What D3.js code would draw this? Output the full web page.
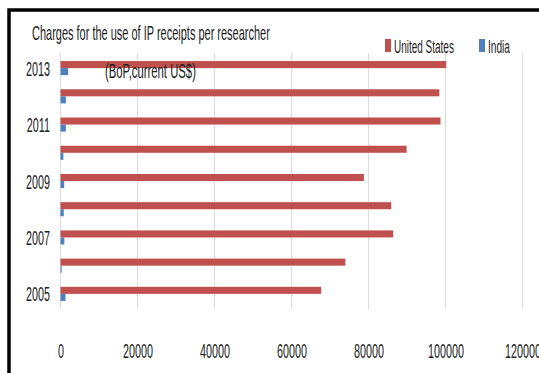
<!DOCTYPE html>
<html>
<head>
<meta charset="utf-8">
<script src="https://cdn.jsdelivr.net/npm/d3@7"></script>
<style>
  html, body { margin: 0; padding: 0; background: #fff; }
  svg { display: block; }
  text { font-family: "Liberation Sans Narrow", "Liberation Sans", Arial, sans-serif; fill: #222; }
</style>
</head>
<body>
<svg id="chart" width="539" height="373"></svg>
<script>
// Charges for the use of IP receipts per researcher, 2005–2013
const years = ["2005", "2006", "2007", "2008", "2009", "2010", "2011", "2012", "2013"];
const unitedStates = [67700, 74000, 86400, 85900, 78800, 89900, 98700, 98400, 100200];
const india = [1300, 300, 1000, 850, 950, 750, 1400, 1400, 2000];
const seriesNames = ["United States", "India"];
const seriesColors = ["#C0504D", "#4F81BD"];
const xTicks = [0, 20000, 40000, 60000, 80000, 100000, 120000];
const yTickLabels = ["2005", "2007", "2009", "2011", "2013"];
const titleText = "Charges for the use of IP receipts per researcher";
const subtitleText = "(BoP,current US$)";

const svg = d3.select("#chart");
const fontStack = "'Liberation Sans Narrow', 'Liberation Sans', Arial, sans-serif";
const textColor = "#222";

// plot area
const plotLeft = 60.5, plotRight = 522.5, plotTop = 53, plotBottom = 309;

const x = d3.scaleLinear().domain([0, 120000]).range([plotLeft, plotRight]);
const y0 = d3.scaleBand().domain(years).range([plotBottom - 1, plotTop + 1])
  .paddingInner(0.5).paddingOuter(0.25);
const y1 = d3.scaleBand().domain(seriesNames).range([0, y0.bandwidth()]);
const color = d3.scaleOrdinal().domain(seriesNames).range(seriesColors);

const rows = years.map((yr, i) => ({
  year: yr,
  values: [
    { name: "United States", value: unitedStates[i] },
    { name: "India", value: india[i] }
  ]
}));

// squeeze a text element horizontally so it spans the given width
function fitWidth(sel, width) {
  sel.each(function () {
    const w = this.getComputedTextLength();
    const t = d3.select(this);
    const base = t.attr("data-base") || "";
    t.attr("transform", base + ` scale(${width / w},1)`);
  });
}

// vertical gridlines
svg.append("g")
  .selectAll("line")
  .data(xTicks)
  .join("line")
  .attr("x1", d => x(d)).attr("x2", d => x(d))
  .attr("y1", plotTop).attr("y2", plotBottom)
  .attr("stroke", "#dcdcdc").attr("stroke-width", 1);

// bars
svg.append("g")
  .selectAll("g")
  .data(rows)
  .join("g")
  .attr("transform", d => `translate(0,${y0(d.year)})`)
  .selectAll("rect")
  .data(d => d.values)
  .join("rect")
  .attr("x", x(0))
  .attr("y", d => y1(d.name))
  .attr("width", d => x(d.value) - x(0))
  .attr("height", y1.bandwidth())
  .attr("fill", d => color(d.name));

// x axis labels: squeezed so each digit is about 6px wide
const xAxis = svg.append("g")
  .attr("transform", `translate(0,${plotBottom})`)
  .call(d3.axisBottom(x).tickValues(xTicks).tickFormat(d3.format("d")).tickSize(0).tickPadding(0));
xAxis.select(".domain").remove();
xAxis.selectAll("text")
  .attr("font-size", 21)
  .attr("dy", null)
  .attr("y", 49.5)
  .style("font-family", fontStack)
  .attr("fill", textColor);
const digitW = xAxis.select("text").node().getComputedTextLength();
const tickSx = 6 / digitW;
xAxis.selectAll("text").attr("transform", `scale(${tickSx},1)`);

// y axis labels (every other year)
const yAxis = svg.append("g")
  .attr("transform", `translate(${plotLeft},0)`)
  .call(d3.axisLeft(y0).tickValues(yTickLabels).tickSize(0).tickPadding(0));
yAxis.select(".domain").remove();
yAxis.selectAll("text")
  .attr("font-size", 21)
  .attr("x", -10.5 / tickSx)
  .attr("dy", "0.36em")
  .style("font-family", fontStack)
  .attr("fill", textColor)
  .attr("transform", `scale(${tickSx},1)`);

// title and subtitle
svg.append("text")
  .attr("data-base", "translate(32,40)")
  .attr("font-size", 20)
  .text(titleText)
  .call(fitWidth, 238);

svg.append("text")
  .attr("data-base", "translate(105,78)")
  .attr("font-size", 20)
  .text(subtitleText)
  .call(fitWidth, 91);

// legend
const legendItems = [
  { name: "United States", sx: 385, tx: 394, w: 60 },
  { name: "India", sx: 479, tx: 488, w: 22 }
];
const legend = svg.append("g");
legend.selectAll("rect")
  .data(legendItems)
  .join("rect")
  .attr("x", d => d.sx).attr("y", 39)
  .attr("width", 6).attr("height", 13)
  .attr("fill", d => color(d.name));
legend.selectAll("text")
  .data(legendItems)
  .join("text")
  .attr("data-base", d => `translate(${d.tx},52.5)`)
  .attr("font-size", 19)
  .text(d => d.name)
  .each(function (d) { d3.select(this).call(fitWidth, d.w); });

// outer frame (top and left edges)
svg.append("path")
  .attr("d", "M9,373 V10 H539")
  .attr("fill", "none")
  .attr("stroke", "#000")
  .attr("stroke-width", 3.5);
</script>
</body>
</html>
